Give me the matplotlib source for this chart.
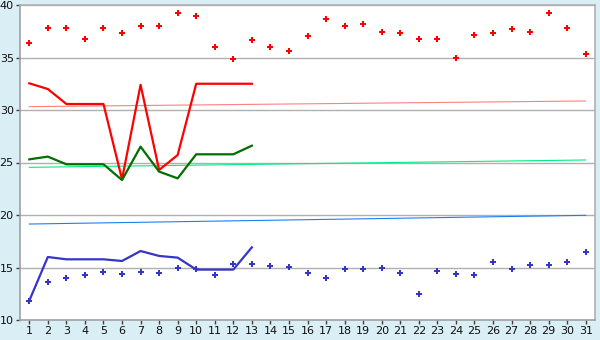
import matplotlib
matplotlib.use("Agg")
import matplotlib.pyplot as plt
import numpy as np

days = list(range(1, 32))

red_points = [36.35, 37.78, 37.78, 36.73, 37.78, 37.3, 38.0, 38.0, 39.2, 39.0,
              35.97, 34.83, 36.63, 35.97, 35.59, 37.02, 38.63, 37.97, 38.16, 37.4,
              37.3, 36.73, 36.73, 34.92, 37.11, 37.3, 37.68, 37.4, 39.2, 37.78, 35.3]
blue_points = [11.84, 13.59, 13.97, 14.25, 14.54, 14.35, 14.54, 14.44, 14.92, 14.86,
               14.29, 15.3, 15.3, 15.11, 15.02, 14.44, 13.97, 14.83, 14.83, 14.92,
               14.44, 12.44, 14.63, 14.35, 14.25, 15.49, 14.83, 15.21, 15.21, 15.49, 16.44]

line_days = list(range(1, 14))
red_line = [32.54, 32.0, 30.57, 30.57, 30.57, 23.4, 32.4, 24.29, 25.71, 32.5, 32.5, 32.5, 32.5]
green_line = [25.3, 25.56, 24.83, 24.83, 24.83, 23.33, 26.51, 24.13, 23.49, 25.78, 25.78, 25.78, 26.6]
blue_line = [11.84, 16.0, 15.78, 15.78, 15.78, 15.62, 16.57, 16.1, 15.94, 14.8, 14.8, 14.8, 16.92]

trend_days = [1, 31]
red_trend = [30.32, 30.86]
green_trend = [24.54, 25.24]
blue_trend = [19.14, 19.97]

bg = '#daeef5'
fig = plt.figure(figsize=(6, 3.4), dpi=100, facecolor=bg)
ax = fig.add_axes([20/600, 20/340, 575/600, 315/340])
ax.set_facecolor('white')

ax.set_xlim(0.5, 31.5)
ax.set_ylim(10, 40)
ax.set_yticks([10, 15, 20, 25, 30, 35, 40])
ax.set_xticks(days)
ax.grid(axis='y', color='#b0b0b0', linewidth=1.0, zorder=0)
ax.set_axisbelow(True)

for s in ['top', 'right']:
    ax.spines[s].set_color('#b0b0b0')
    ax.spines[s].set_linewidth(1.2)
for s in ['left', 'bottom']:
    ax.spines[s].set_color('#a0a0a0')
    ax.spines[s].set_linewidth(1.2)

ax.tick_params(axis='both', direction='out', length=3, width=1, color='#404040',
               labelsize=8, pad=1.5, labelcolor='#101010')

ax.plot(trend_days, red_trend, color='#ff8080', linewidth=0.8, zorder=2)
ax.plot(trend_days, green_trend, color='#00ee80', linewidth=0.8, zorder=2)
ax.plot(trend_days, blue_trend, color='#1a80f0', linewidth=0.8, zorder=2)

ax.plot(line_days, red_line, color='#ff0000', linewidth=1.6, zorder=3)
ax.plot(line_days, green_line, color='#006e00', linewidth=1.6, zorder=3)
ax.plot(line_days, blue_line, color='#3535c8', linewidth=1.6, zorder=3)

ax.plot(days, red_points, linestyle='none', marker='P', markersize=5,
        color='#ff0000', markeredgewidth=0, zorder=4)
ax.plot(days, blue_points, linestyle='none', marker='P', markersize=5,
        color='#3535c8', markeredgewidth=0, zorder=4)

fig.savefig('out.png', dpi=100, facecolor=bg)
